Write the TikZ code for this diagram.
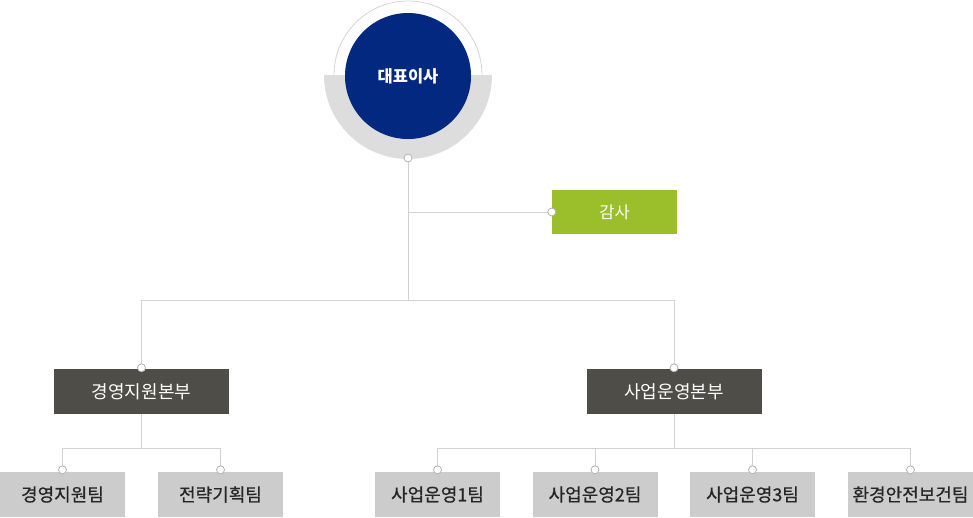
\documentclass[tikz,border=0pt]{standalone}
\usepackage{fontspec}
\setmainfont{Noto Sans CJK KR}
\newfontfamily\teamfont{Noto Sans CJK KR}[FakeBold=0.6]
\usepackage{tikz}
\definecolor{ceoblue}{RGB}{2,41,127}
\definecolor{ringgray}{RGB}{221,221,221}
\definecolor{ringline}{RGB}{208,212,222}
\definecolor{auditgreen}{RGB}{155,191,42}
\definecolor{hqgray}{RGB}{78,77,72}
\definecolor{teamgray}{RGB}{204,204,204}
\definecolor{linkgray}{RGB}{210,210,210}
\tikzstyle{ceo} = [circle, minimum size=126pt, inner sep=0pt, fill=ceoblue, text=white, font=\fontsize{16.5}{19}\selectfont\bfseries]
\tikzstyle{audit} = [rectangle, minimum width=125pt, minimum height=44pt, fill=auditgreen, text=white, font=\fontsize{16.5}{19}\selectfont]
\tikzstyle{hq} = [rectangle, minimum width=175pt, minimum height=45pt, fill=hqgray, text=white, font=\fontsize{18}{21}\selectfont]
\tikzstyle{team} = [rectangle, minimum width=125pt, minimum height=45pt, fill=teamgray, text=black!85, font=\teamfont\fontsize{18}{21}\selectfont]
\tikzstyle{dot} = [circle, minimum size=8pt, inner sep=0pt, fill=white, draw=black!30, line width=0.8pt]
\tikzstyle{link} = [draw=linkgray, line width=1pt]
\begin{document}
\begin{tikzpicture}[x=1pt, y=-1pt]
	\useasboundingbox (0,0) rectangle (973,517);
	% ring around the ceo
	\begin{scope}
		\clip (300,75) rectangle (520,180);
		\fill [ringgray] (408,75) circle (84);
	\end{scope}
	\begin{scope}
		\clip (300,-5) rectangle (520,75);
		\draw [ringline, line width=0.8pt] (408,75) circle (74);
	\end{scope}
	\node (ceo) [ceo] at (408,76) {대표이사};
	\node (audit) [audit] at (614.5,212) {감사};
	\node (mgmt) [hq] at (141.5,391.5) {경영지원본부};
	\node (ops) [hq] at (674,391.5) {사업운영본부};
	\node (team1) [team] at (62.5,494.5) {경영지원팀};
	\node (team2) [team] at (220.5,494.5) {전략기획팀};
	\node (team3) [team] at (437.5,494.5) {사업운영1팀};
	\node (team4) [team] at (595,494.5) {사업운영2팀};
	\node (team5) [team] at (752.5,494.5) {사업운영3팀};
	\node (team6) [team] at (910.5,494.5) {환경안전보건팀};
	\coordinate (top) at (408,158);
	\coordinate (split) at (408,300);
	\draw [link] (top) -- (split);
	\draw [link] (top |- audit) -- (audit.west);
	\draw [link] (split) -| (mgmt.north);
	\draw [link] (split) -| (ops.north);
	\draw [link] (mgmt.south) -- ++(0,34) coordinate (mgmtbus);
	\draw [link] (team1.north) |- (mgmtbus) -| (team2.north);
	\draw [link] (ops.south) -- ++(0,34) coordinate (opsbus);
	\draw [link] (team3.north) |- (opsbus) -| (team6.north);
	\draw [link] (team4.north) -- (team4.north |- opsbus);
	\draw [link] (team5.north) -- (team5.north |- opsbus);
	% connector dots
	\node (topdot) [dot] at (top) {};
	\node [dot] at (audit.west) {};
	\node [dot] at ([yshift=1pt]mgmt.north) {};
	\node [dot] at ([yshift=1pt]ops.north) {};
	\foreach \t in {team1,team2,team3,team4,team5,team6}
		\node [dot] at ([yshift=2pt]\t.north) {};
\end{tikzpicture}
\end{document}
